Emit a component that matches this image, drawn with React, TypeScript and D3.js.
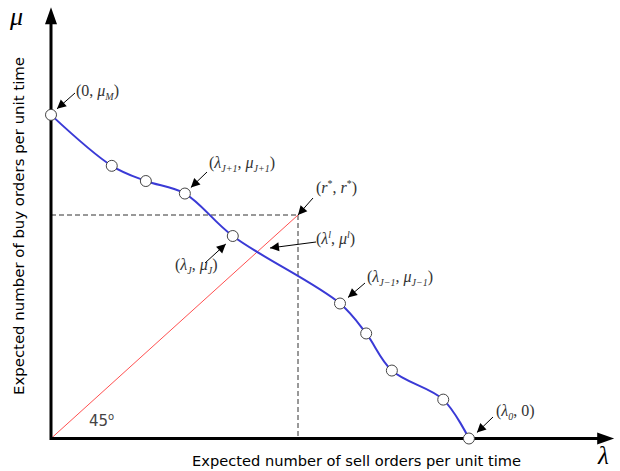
import React from "react";
import * as d3 from "d3";

// Data (units where r* = 50 on both axes)
const lambdaVals = [0, 12.3, 19.2, 27.1, 36.8, 58.5, 63.8, 69.0, 79.4, 84.6];
const muVals = [72.4, 61.0, 57.6, 54.8, 45.3, 30.2, 23.5, 15.2, 8.7, 0];
const rStar = 50;
const xMax = 114;
const yMax = 96.5;

const W = 620;
const H = 471;

export default function App() {
  const x = d3.scaleLinear().domain([0, rStar]).range([51, 298]);
  const y = d3.scaleLinear().domain([0, rStar]).range([438.5, 215]);
  const pts: [number, number][] = lambdaVals.map((l, i) => [l, muVals[i]]);
  const line = d3
    .line<[number, number]>()
    .x((d) => x(d[0]))
    .y((d) => y(d[1]))
    .curve(d3.curveCatmullRom.alpha(0.5));

  const serif = "'Liberation Serif', 'Times New Roman', serif";
  const sans = "'DejaVu Sans', Verdana, sans-serif";
  const labColor = "#333";

  const sub = (s: string) => (
    <tspan fontSize={10} fontStyle="italic" dy={4}>{s}</tspan>
  );

  const anns = [
    { fx: 75, fy: 93, tx: x(lambdaVals[0]) + 6, ty: y(muVals[0]) - 6 },
    { fx: 207, fy: 172, tx: x(lambdaVals[3]) + 6, ty: y(muVals[3]) - 6 },
    { fx: 313, fy: 198, tx: x(rStar), ty: y(rStar) },
    { fx: 316, fy: 242, tx: 270, ty: 248 },
    { fx: 205, fy: 263, tx: x(lambdaVals[4]) - 7, ty: y(muVals[4]) + 8 },
    { fx: 365, fy: 283, tx: x(lambdaVals[5]) + 8, ty: y(muVals[5]) - 6 },
    { fx: 493, fy: 417, tx: x(lambdaVals[9]) + 8, ty: y(muVals[9]) - 6 },
  ];

  const arrowHead = (fx: number, fy: number, tx: number, ty: number, len = 9, wid = 4.5) => {
    const a = Math.atan2(ty - fy, tx - fx);
    const bx = tx - len * Math.cos(a);
    const by = ty - len * Math.sin(a);
    const nx = -Math.sin(a) * wid;
    const ny = Math.cos(a) * wid;
    return `M${tx},${ty}L${bx + nx},${by + ny}L${bx - nx},${by - ny}Z`;
  };

  const x0 = x(0);
  const y0 = y(0);
  const xEnd = x(xMax);
  const yEnd = y(yMax);

  return (
    <svg width={W} height={H} style={{ position: "absolute", left: 0, top: 0, background: "#fff" }}>
      <line x1={x0} y1={y(rStar)} x2={x(rStar)} y2={y(rStar)} stroke="#333" strokeWidth={1} strokeDasharray="5,3" />
      <line x1={x(rStar)} y1={y(rStar)} x2={x(rStar)} y2={y0} stroke="#333" strokeWidth={1} strokeDasharray="5,3" />
      <line x1={x0} y1={y0} x2={x(rStar)} y2={y(rStar)} stroke="#ff5050" strokeWidth={1} />
      <line x1={x0} y1={y0} x2={xEnd - 12} y2={y0} stroke="#000" strokeWidth={3} />
      <line x1={x0} y1={y0 + 1.5} x2={x0} y2={yEnd + 14} stroke="#000" strokeWidth={3} />
      <path d={`M${xEnd},${y0}L${xEnd - 17},${y0 - 6}L${xEnd - 17},${y0 + 6}Z`} fill="#000" />
      <path d={`M${x0},${yEnd}L${x0 - 6},${yEnd + 17}L${x0 + 6},${yEnd + 17}Z`} fill="#000" />
      <path d={line(pts) || ""} fill="none" stroke="#3a3ad6" strokeWidth={2} />
      {pts.map((p, i) => (
        <circle key={i} cx={x(p[0])} cy={y(p[1])} r={5.5} fill="#fff" stroke="#444" strokeWidth={1} />
      ))}
      {anns.map((a, i) => (
        <g key={i}>
          <line x1={a.fx} y1={a.fy} x2={a.tx} y2={a.ty} stroke="#000" strokeWidth={1} />
          <path d={arrowHead(a.fx, a.fy, a.tx, a.ty)} fill="#000" />
        </g>
      ))}
      <g fontFamily={serif} fontSize={16} fill={labColor}>
        <text x={76} y={96}>(0, <tspan fontStyle="italic">μ</tspan>{sub("M")}<tspan dy={-4}>)</tspan></text>
        <text x={209} y={168}>(<tspan fontStyle="italic">λ</tspan>{sub("J+1")}<tspan dy={-4}>, </tspan><tspan fontStyle="italic">μ</tspan>{sub("J+1")}<tspan dy={-4}>)</tspan></text>
        <text x={316} y={193}>(<tspan fontStyle="italic">r</tspan><tspan fontSize={10} dy={-6}>*</tspan><tspan dy={6}>, </tspan><tspan fontStyle="italic">r</tspan><tspan fontSize={10} dy={-6}>*</tspan><tspan dy={6}>)</tspan></text>
        <text x={316} y={244}>(<tspan fontStyle="italic">λ</tspan><tspan fontSize={10} fontStyle="italic" dy={-6}>l</tspan><tspan dy={6}>, </tspan><tspan fontStyle="italic">μ</tspan><tspan fontSize={10} fontStyle="italic" dy={-6}>l</tspan><tspan dy={6}>)</tspan></text>
        <text x={175} y={270}>(<tspan fontStyle="italic">λ</tspan>{sub("J")}<tspan dy={-4}>, </tspan><tspan fontStyle="italic">μ</tspan>{sub("J")}<tspan dy={-4}>)</tspan></text>
        <text x={367} y={282}>(<tspan fontStyle="italic">λ</tspan>{sub("J−1")}<tspan dy={-4}>, </tspan><tspan fontStyle="italic">μ</tspan>{sub("J−1")}<tspan dy={-4}>)</tspan></text>
        <text x={496} y={416}>(<tspan fontStyle="italic">λ</tspan>{sub("0")}<tspan dy={-4}>, 0)</tspan></text>
      </g>
      <text x={89} y={426} fontFamily={sans} fontSize={15} fill="#444">45<tspan fontSize={10} dy={-6}>o</tspan></text>
      <text x={10} y={25} fontFamily={serif} fontSize={26} fontStyle="italic" fill="#000">μ</text>
      <text x={598} y={464} fontFamily={serif} fontSize={25} fontStyle="italic" fill="#000">λ</text>
      <text x={192} y={466} textLength={329} lengthAdjust="spacingAndGlyphs" fontFamily={sans} fontSize={14.5} fill="#000">
        Expected number of sell orders per unit time
      </text>
      <text transform={`translate(24,395) rotate(-90)`} textLength={338} lengthAdjust="spacingAndGlyphs" fontFamily={sans} fontSize={14.5} fill="#000">
        Expected number of buy orders per unit time
      </text>
    </svg>
  );
}
